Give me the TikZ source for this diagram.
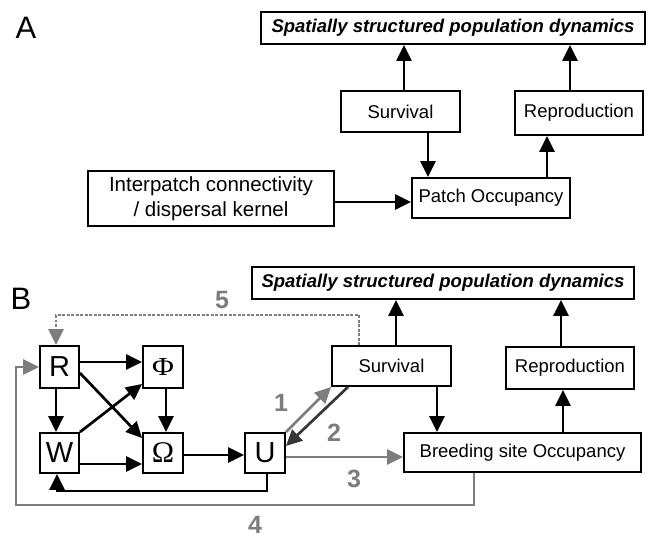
\documentclass[tikz,border=0pt]{standalone}
\usepackage{fontspec}
\setmainfont{Liberation Sans}
\newfontfamily\serifgreek{Liberation Serif}
\usetikzlibrary{arrows.meta,calc}
\definecolor{numgray}{RGB}{125,125,125}
\definecolor{darkgr}{RGB}{55,55,55}
\begin{document}
\begin{tikzpicture}[x=1pt,y=1pt,
  box/.style={draw=black,line width=1.9pt,inner sep=0pt,align=center,
    font=\fontsize{18.5}{22}\selectfont},
  bigbox/.style={box,font=\fontsize{20.5}{25}\selectfont},
  topbox/.style={box,font=\fontsize{18.5}{22}\selectfont\bfseries\itshape},
  letterbox/.style={box,minimum width=39pt,minimum height=41pt,font=\fontsize{29}{32}\selectfont},
  arr/.style={line width=2.7pt,-{Triangle[length=16pt,width=15pt]}},
  garr/.style={arr,draw=numgray,color=numgray},
  darr/.style={arr,draw=darkgr,color=darkgr},
  dotarr/.style={line width=2.6pt,numgray,dash pattern=on 2.6pt off 1.9pt,
    -{Triangle[length=16pt,width=15pt]}},
  num/.style={font=\fontsize{25}{28}\selectfont\bfseries,text=numgray,inner sep=0pt},
  panel/.style={font=\fontsize{31}{34}\selectfont,inner sep=0pt}
]
\useasboundingbox (0,0) rectangle (648,538);
% ---------- Panel A ----------
\node[panel] (labA) at (26,510) {A};
\node[topbox,minimum width=384pt,minimum height=32pt] (topA) at (453,510) {Spatially structured population dynamics};
\node[box,minimum width=119pt,minimum height=41pt] (survA) at (400.5,426.5) {Survival};
\node[box,minimum width=128pt,minimum height=44pt] (reprA) at (579,425) {Reproduction};
\node[box,minimum width=158pt,minimum height=40pt] (patch) at (491,340) {Patch Occupancy};
\node[bigbox,minimum width=246pt,minimum height=55pt] (inter) at (211,339.5) {Interpatch connectivity\\/ dispersal kernel};
\draw[arr] ([xshift=3.5pt]survA.north) -- ([xshift=3.5pt]survA.north |- topA.south);
\draw[arr] ([xshift=27.5pt]survA.south) -- ([xshift=27.5pt]survA.south |- patch.north);
\draw[arr] ([xshift=56pt]patch.north) -- ([xshift=56pt]patch.north |- reprA.south);
\draw[arr] ([xshift=-9pt]reprA.north) -- ([xshift=-9pt]reprA.north |- topA.south);
\draw[arr] ([yshift=-3.5pt]inter.east) -- ([yshift=-3.5pt]inter.east -| patch.west);
% ---------- Panel B ----------
\node[panel] (labB) at (21,239) {B};
\node[topbox,minimum width=382pt,minimum height=32pt] (topB) at (443,255) {Spatially structured population dynamics};
\node[letterbox,minimum height=42pt] (R) at (59.5,171) {R};
\node[letterbox,minimum width=40pt,minimum height=42pt] (Phi) at (163,171) {\serifgreek\fontsize{26}{30}\selectfont\scalebox{1.15}[1]{Φ}};
\node[letterbox,minimum height=40pt] (W) at (59.5,85) {W};
\node[letterbox,minimum width=40pt,minimum height=40pt] (Om) at (163,85) {\serifgreek\fontsize{30}{32}\selectfont Ω};
\node[letterbox,minimum width=40pt,minimum height=40pt] (U) at (265,85) {U};
\node[box,minimum width=119pt,minimum height=40pt] (survB) at (391.5,172) {Survival};
\node[box,minimum width=128pt,minimum height=42pt] (reprB) at (570,170) {Reproduction};
\node[box,minimum width=237pt,minimum height=39pt] (breed) at (522.5,85.5) {Breeding site Occupancy};
% black arrows
\draw[arr] ([xshift=4.5pt]survB.north) -- ([xshift=4.5pt]survB.north |- topB.south);
\draw[arr] ([xshift=45.5pt]survB.south) -- ([xshift=45.5pt]survB.south |- breed.north);
\draw[arr] ([xshift=40.5pt]breed.north) -- ([xshift=40.5pt]breed.north |- reprB.south);
\draw[arr] ([xshift=-9pt]reprB.north) -- ([xshift=-9pt]reprB.north |- topB.south);
\draw[arr] ([yshift=5pt]R.east) -- ([yshift=5pt]R.east -| Phi.west);
\draw[arr] ([xshift=-3.5pt]R.south) -- ([xshift=-3.5pt]R.south |- W.north);
\draw[arr] ([xshift=3pt]Phi.south) -- ([xshift=3pt]Phi.south |- Om.north);
\draw[arr] ([yshift=-11pt]W.east) -- ([yshift=-11pt]W.east -| Om.west);
\draw[arr] (W.north east) -- ([yshift=5pt]Phi.south west);
\draw[arr] ([yshift=-6pt]R.east) -- ([yshift=-6pt]Om.north west);
\draw[arr] ([yshift=-2pt]Om.east) -- ([yshift=-2pt]Om.east -| U.west);
\draw[arr] ([xshift=2pt]U.south) -- ++(0,-17) -| ([xshift=-2.5pt]W.south);
% gray arrows
\draw[garr] (U.north east) -- (survB.south west);
\draw[darr] ([xshift=-43.5pt]survB.south) -- ([yshift=7pt]U.east);
\draw[garr] ([yshift=-4pt]U.east) -- ([yshift=-4pt]U.east -| breed.west);
\coordinate (c4) at (16,33);
\draw[garr] ([xshift=-48.5pt]breed.south) |- (c4) |- (R.west);
\draw[dotarr] ([xshift=-32.5pt]survB.north) -- ++(0,30) -| ([xshift=-3.5pt]R.north);
% numbers
\node[num] (n5) at (222,238) {5};
\node[num] (n1) at (281,135) {1};
\node[num] (n2) at (334,105) {2};
\node[num] (n3) at (354,59) {3};
\node[num] (n4) at (255,13) {4};
\end{tikzpicture}
\end{document}
